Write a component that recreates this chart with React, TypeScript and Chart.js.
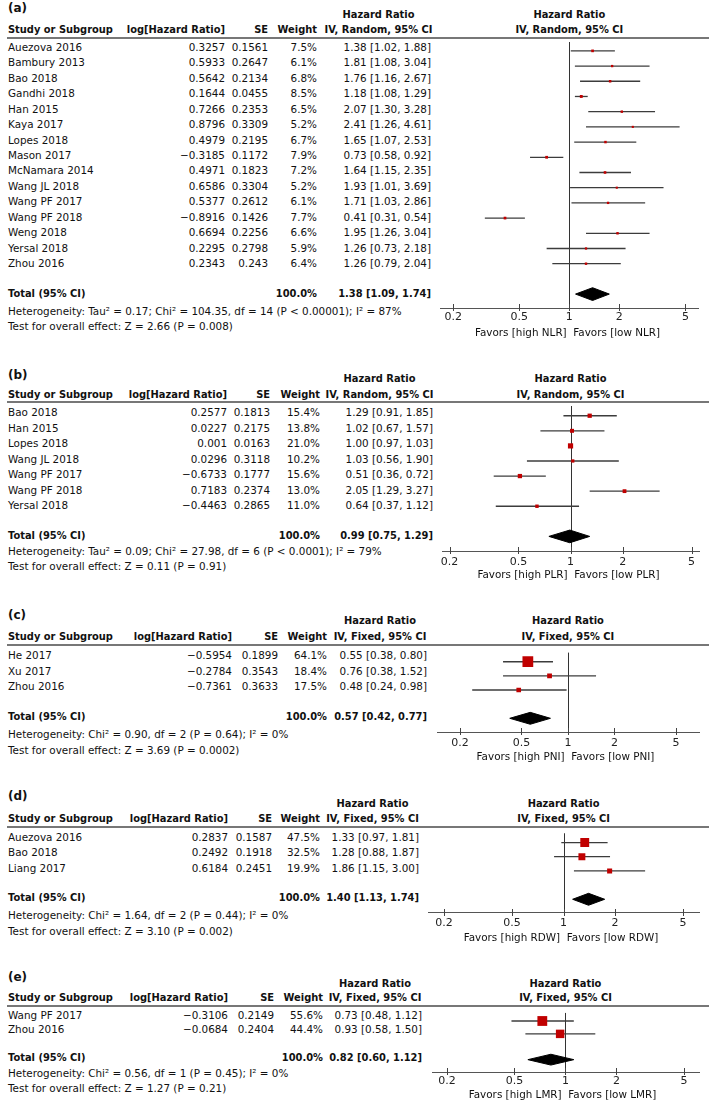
import React, { useEffect, useRef } from 'react';
import { Chart, registerables } from 'chart.js';
Chart.register(...registerables);

const FONT = '"DejaVu Sans", sans-serif';
const tickValues = [0.2, 0.5, 1, 2, 5];

// ---------- Panel (a): NLR ----------
const studiesA = ['Auezova 2016', 'Bambury 2013', 'Bao 2018', 'Gandhi 2018', 'Han 2015', 'Kaya 2017', 'Lopes 2018', 'Mason 2017', 'McNamara 2014', 'Wang JL 2018', 'Wang PF 2017', 'Wang PF 2018', 'Weng 2018', 'Yersal 2018', 'Zhou 2016'];
const logHrA = [0.3257, 0.5933, 0.5642, 0.1644, 0.7266, 0.8796, 0.4979, -0.3185, 0.4971, 0.6586, 0.5377, -0.8916, 0.6694, 0.2295, 0.2343];
const seA = [0.1561, 0.2647, 0.2134, 0.0455, 0.2353, 0.3309, 0.2195, 0.1172, 0.1823, 0.3304, 0.2612, 0.1426, 0.2256, 0.2798, 0.243];
const weightA = [7.5, 6.1, 6.8, 8.5, 6.5, 5.2, 6.7, 7.9, 7.2, 5.2, 6.1, 7.7, 6.6, 5.9, 6.4];
const hrA = [1.38, 1.81, 1.76, 1.18, 2.07, 2.41, 1.65, 0.73, 1.64, 1.93, 1.71, 0.41, 1.95, 1.26, 1.26];
const loA = [1.02, 1.08, 1.16, 1.08, 1.30, 1.26, 1.07, 0.58, 1.15, 1.01, 1.03, 0.31, 1.26, 0.73, 0.79];
const hiA = [1.88, 3.04, 2.67, 1.29, 3.28, 4.61, 2.53, 0.92, 2.35, 3.69, 2.86, 0.54, 3.04, 2.18, 2.04];
const totalA = [1.38, 1.09, 1.74];
const hetA = 'Heterogeneity: Tau² = 0.17; Chi² = 104.35, df = 14 (P < 0.00001); I² = 87%';
const testA = 'Test for overall effect: Z = 2.66 (P = 0.008)';

// ---------- Panel (b): PLR ----------
const studiesB = ['Bao 2018', 'Han 2015', 'Lopes 2018', 'Wang JL 2018', 'Wang PF 2017', 'Wang PF 2018', 'Yersal 2018'];
const logHrB = [0.2577, 0.0227, 0.001, 0.0296, -0.6733, 0.7183, -0.4463];
const seB = [0.1813, 0.2175, 0.0163, 0.3118, 0.1777, 0.2374, 0.2865];
const weightB = [15.4, 13.8, 21.0, 10.2, 15.6, 13.0, 11.0];
const hrB = [1.29, 1.02, 1.00, 1.03, 0.51, 2.05, 0.64];
const loB = [0.91, 0.67, 0.97, 0.56, 0.36, 1.29, 0.37];
const hiB = [1.85, 1.57, 1.03, 1.90, 0.72, 3.27, 1.12];
const totalB = [0.99, 0.75, 1.29];
const hetB = 'Heterogeneity: Tau² = 0.09; Chi² = 27.98, df = 6 (P < 0.0001); I² = 79%';
const testB = 'Test for overall effect: Z = 0.11 (P = 0.91)';

// ---------- Panel (c): PNI ----------
const studiesC = ['He 2017', 'Xu 2017', 'Zhou 2016'];
const logHrC = [-0.5954, -0.2784, -0.7361];
const seC = [0.1899, 0.3543, 0.3633];
const weightC = [64.1, 18.4, 17.5];
const hrC = [0.55, 0.76, 0.48];
const loC = [0.38, 0.38, 0.24];
const hiC = [0.80, 1.52, 0.98];
const totalC = [0.57, 0.42, 0.77];
const hetC = 'Heterogeneity: Chi² = 0.90, df = 2 (P = 0.64); I² = 0%';
const testC = 'Test for overall effect: Z = 3.69 (P = 0.0002)';

// ---------- Panel (d): RDW ----------
const studiesD = ['Auezova 2016', 'Bao 2018', 'Liang 2017'];
const logHrD = [0.2837, 0.2492, 0.6184];
const seD = [0.1587, 0.1918, 0.2451];
const weightD = [47.5, 32.5, 19.9];
const hrD = [1.33, 1.28, 1.86];
const loD = [0.97, 0.88, 1.15];
const hiD = [1.81, 1.87, 3.00];
const totalD = [1.40, 1.13, 1.74];
const hetD = 'Heterogeneity: Chi² = 1.64, df = 2 (P = 0.44); I² = 0%';
const testD = 'Test for overall effect: Z = 3.10 (P = 0.002)';

// ---------- Panel (e): LMR ----------
const studiesE = ['Wang PF 2017', 'Zhou 2016'];
const logHrE = [-0.3106, -0.0684];
const seE = [0.2149, 0.2404];
const weightE = [55.6, 44.4];
const hrE = [0.73, 0.93];
const loE = [0.48, 0.58];
const hiE = [1.12, 1.50];
const totalE = [0.82, 0.60, 1.12];
const hetE = 'Heterogeneity: Chi² = 0.56, df = 1 (P = 0.45); I² = 0%';
const testE = 'Test for overall effect: Z = 1.27 (P = 0.21)';

const panels = [
  { label: '(a)', studies: studiesA, logHr: logHrA, se: seA, weight: weightA, hr: hrA, lo: loA, hi: hiA, total: totalA, het: hetA, test: testA, method: 'IV, Random, 95% CI', marker: 'NLR',
    g: { label: 8, hdr1: 15, hdr2: 30, hline: 38, row0: 47, step: 15.43, het: 311, test: 326, axisY: 308, tickY: 317, favY: 332, axisL: 440, axisR: 698, min: 0.1665, max: 5.95, logX: 225, seX: 268, wX: 317, ciL: 326, ciR: 431, favC: 567.5 } },
  { label: '(b)', studies: studiesB, logHr: logHrB, se: seB, weight: weightB, hr: hrB, lo: loB, hi: hiB, total: totalB, het: hetB, test: testB, method: 'IV, Random, 95% CI', marker: 'PLR',
    g: { label: 375, hdr1: 379, hdr2: 395, hline: 402, row0: 412, step: 15.5, het: 551, test: 566, axisY: 551, tickY: 562, favY: 574, axisL: 442, axisR: 699, min: 0.181, max: 5.52, logX: 227, seX: 270, wX: 320, ciL: 326, ciR: 433, favC: 568.5 } },
  { label: '(c)', studies: studiesC, logHr: logHrC, se: seC, weight: weightC, hr: hrC, lo: loC, hi: hiC, total: totalC, het: hetC, test: testC, method: 'IV, Fixed, 95% CI', marker: 'PNI',
    g: { label: 615, hdr1: 621, hdr2: 637, hline: 645, row0: 655, step: 15.5, het: 734, test: 750, axisY: 732, tickY: 743, favY: 756, axisL: 437, axisR: 699, min: 0.142, max: 7.05, logX: 232, seX: 278, wX: 327, ciL: 333, ciR: 427, favC: 565.5 } },
  { label: '(d)', studies: studiesD, logHr: logHrD, se: seD, weight: weightD, hr: hrD, lo: loD, hi: hiD, total: totalD, het: hetD, test: testD, method: 'IV, Fixed, 95% CI', marker: 'RDW',
    g: { label: 796, hdr1: 804, hdr2: 819, hline: 827, row0: 837, step: 15.3, het: 915, test: 931, axisY: 913, tickY: 923, favY: 937, axisL: 428, axisR: 699, min: 0.161, max: 6.2, logX: 228, seX: 272, wX: 320, ciL: 326, ciR: 419, favC: 561 } },
  { label: '(e)', studies: studiesE, logHr: logHrE, se: seE, weight: weightE, hr: hrE, lo: loE, hi: hiE, total: totalE, het: hetE, test: testE, method: 'IV, Fixed, 95% CI', marker: 'LMR',
    g: { label: 977, hdr1: 984, hdr2: 998, hline: 1006, row0: 1015, step: 14.4, het: 1073, test: 1088, axisY: 1072, tickY: 1081, favY: 1094, axisL: 432, axisR: 699, min: 0.163, max: 6.14, logX: 228, seX: 274, wX: 323, ciL: 328, ciR: 422, favC: 562.5 } },
];

const REG = 10.4;
const BOLD = 9.9;

function Txt(props: { x: number; y: number; text: string; align?: 'left' | 'right' | 'center'; bold?: boolean; size?: number }) {
  const { x, y, text, align = 'left', bold = false } = props;
  const size = props.size ?? (bold ? BOLD : REG);
  const style: any = {
    position: 'absolute', top: y - 7, height: 14, lineHeight: '14px', fontSize: size,
    fontWeight: bold ? 'bold' : 'normal', whiteSpace: 'pre', fontFamily: FONT, color: '#111',
  };
  if (align === 'left') style.left = x;
  else if (align === 'right') style.right = 709 - x;
  else { style.left = x - 150; style.width = 300; style.textAlign = 'center'; }
  return <div style={style}>{text}</div>;
}

const fmt = (v: number) => String(v).replace('-', '\u2212');
const ci = (a: number, b: number, c: number) => `${a.toFixed(2)} [${b.toFixed(2)}, ${c.toFixed(2)}]`;
const PAD = 15;
const XH = 20;

function ForestCanvas({ p }: { p: any }) {
  const ref = useRef<HTMLCanvasElement>(null);
  const g = p.g;
  const w = g.axisR - g.axisL + 2 * PAD;
  const h = g.axisY - g.hline + XH;
  useEffect(() => {
    const n = p.studies.length;
    const tIdx = n + 1;
    const yMin = (g.hline - g.row0) / g.step;
    const yMax = (g.axisY - g.row0) / g.step;
    const dh = 0.42;
    const [tHr, tLo, tHi] = p.total;
    const datasets: any[] = [];
    datasets.push({
      data: p.hr.map((v: number, i: number) => ({ x: v, y: i })),
      pointStyle: 'rect',
      pointRadius: p.weight.map((wt: number) => (0.72 * Math.pow(wt, 0.65)) / Math.SQRT2),
      backgroundColor: '#c00000', borderColor: '#c00000', borderWidth: 0,
      showLine: false, order: 0,
    });
    datasets.push({
      data: [{ x: tLo, y: tIdx }, { x: tHr, y: tIdx - dh }, { x: tHi, y: tIdx }, { x: tHr, y: tIdx + dh }, { x: tLo, y: tIdx }],
      showLine: true, fill: 'shape', backgroundColor: '#000', borderColor: '#000', borderWidth: 1,
      pointRadius: 0, tension: 0, order: 1,
    });
    p.lo.forEach((l: number, i: number) => {
      datasets.push({
        data: [{ x: l, y: i }, { x: p.hi[i], y: i }],
        showLine: true, borderColor: '#3c3c3c', borderWidth: 1.3, pointRadius: 0, fill: false, order: 2,
      });
    });
    const refPlugin = {
      id: 'forestRef',
      beforeDatasetsDraw(chart: any) {
        const { ctx, chartArea, scales } = chart;
        const x1 = Math.round(scales.x.getPixelForValue(1)) + 0.5;
        ctx.save();
        ctx.strokeStyle = '#333';
        ctx.lineWidth = 1;
        ctx.beginPath();
        ctx.moveTo(x1, chartArea.top);
        ctx.lineTo(x1, chartArea.bottom);
        ctx.stroke();
        ctx.restore();
      },
      afterDraw(chart: any) {
        const { ctx, chartArea, scales } = chart;
        ctx.save();
        ctx.strokeStyle = '#444';
        ctx.lineWidth = 1;
        tickValues.forEach((v) => {
          const x = Math.round(scales.x.getPixelForValue(v)) + 0.5;
          ctx.beginPath();
          ctx.moveTo(x, chartArea.bottom - 4);
          ctx.lineTo(x, chartArea.bottom + 3);
          ctx.stroke();
        });
        ctx.restore();
      },
    };
    const chart = new Chart(ref.current as HTMLCanvasElement, {
      type: 'scatter',
      data: { datasets },
      options: {
        responsive: false,
        animation: false,
        events: [],
        layout: { padding: { left: PAD, right: PAD, top: 0, bottom: 0 } },
        plugins: { legend: { display: false }, tooltip: { enabled: false }, title: { display: false } },
        scales: {
          x: {
            type: 'logarithmic', position: 'bottom', min: g.min, max: g.max,
            afterBuildTicks: (s: any) => { s.ticks = tickValues.map((v) => ({ value: v })); },
            afterFit: (s: any) => { s.height = XH; },
            grid: { display: false, drawTicks: false },
            border: { display: true, color: '#555', width: 1 },
            ticks: {
              autoSkip: false, maxRotation: 0, minRotation: 0, padding: Math.max(0, g.tickY - g.axisY - 6.6),
              color: '#222', font: { family: FONT, size: 11 },
              callback: (v: any) => String(v),
            },
          },
          y: { type: 'linear', display: false, reverse: true, min: yMin, max: yMax },
        },
      } as any,
      plugins: [refPlugin],
    });
    return () => chart.destroy();
  }, []);
  return <canvas ref={ref} width={w} height={h} style={{ position: 'absolute', left: g.axisL - PAD, top: g.hline, width: w, height: h }} />;
}

function Panel({ p }: { p: any }) {
  const g = p.g;
  const n = p.studies.length;
  const ciC = (g.ciL + g.ciR) / 2;
  const oneX = g.axisL + ((g.axisR - g.axisL) * Math.log(1 / g.min)) / Math.log(g.max / g.min);
  const totalY = g.row0 + (n + 1) * g.step;
  return (
    <>
      <Txt x={8} y={g.label} text={p.label} bold size={12} />
      <Txt x={ciC} y={g.hdr1} text="Hazard Ratio" bold align="center" />
      <Txt x={oneX} y={g.hdr1} text="Hazard Ratio" bold align="center" />
      <Txt x={8} y={g.hdr2} text="Study or Subgroup" bold />
      <Txt x={g.logX} y={g.hdr2} text="log[Hazard Ratio]" bold align="right" />
      <Txt x={g.seX} y={g.hdr2} text="SE" bold align="right" />
      <Txt x={g.wX} y={g.hdr2} text="Weight" bold align="right" />
      <Txt x={ciC} y={g.hdr2} text={p.method} bold align="center" />
      <Txt x={oneX} y={g.hdr2} text={p.method} bold align="center" />
      <div style={{ position: 'absolute', left: 7, width: 702, top: g.hline - 1, height: 2, background: '#777' }} />
      {p.studies.map((s: string, i: number) => {
        const y = g.row0 + i * g.step;
        return (
          <React.Fragment key={s + i}>
            <Txt x={8} y={y} text={s} />
            <Txt x={g.logX} y={y} text={fmt(p.logHr[i])} align="right" />
            <Txt x={g.seX} y={y} text={fmt(p.se[i])} align="right" />
            <Txt x={g.wX} y={y} text={p.weight[i].toFixed(1) + '%'} align="right" />
            <Txt x={g.ciR} y={y} text={ci(p.hr[i], p.lo[i], p.hi[i])} align="right" />
          </React.Fragment>
        );
      })}
      <Txt x={8} y={totalY} text="Total (95% CI)" bold />
      <Txt x={g.wX} y={totalY} text="100.0%" bold align="right" />
      <Txt x={g.ciR} y={totalY} text={ci(p.total[0], p.total[1], p.total[2])} bold align="right" />
      <Txt x={8} y={g.het} text={p.het} />
      <Txt x={8} y={g.test} text={p.test} />
      <ForestCanvas p={p} />
      <Txt x={g.favC} y={g.favY} text={`Favors [high ${p.marker}]  Favors [low ${p.marker}]`} align="center" />
    </>
  );
}

export default function App() {
  return (
    <div style={{ position: 'absolute', left: 0, top: 0, width: 709, height: 1100, overflow: 'hidden', background: '#fff' }}>
      {panels.map((p) => <Panel key={p.label} p={p} />)}
    </div>
  );
}
